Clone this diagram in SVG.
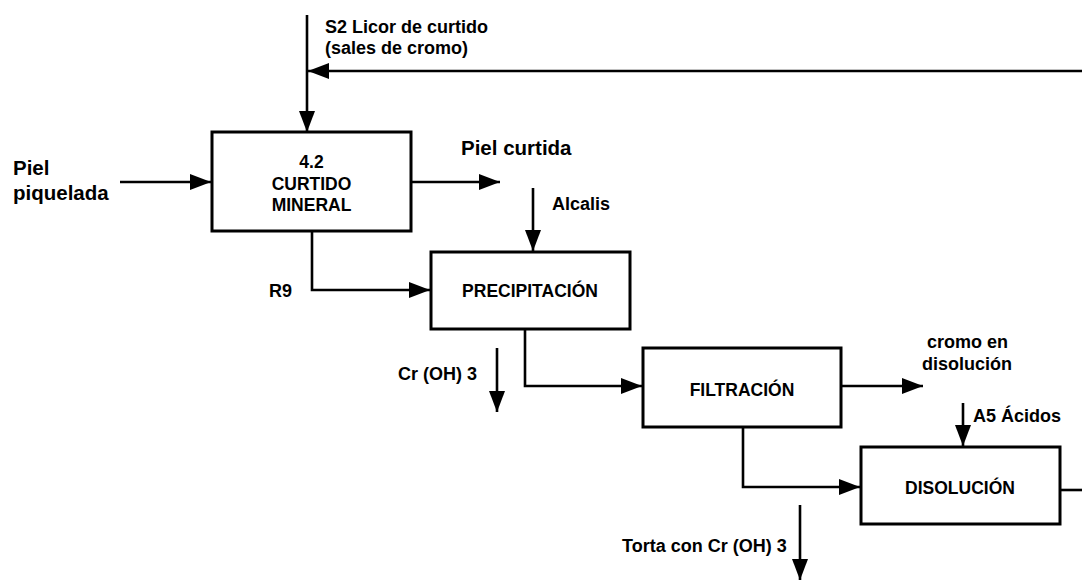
<svg xmlns="http://www.w3.org/2000/svg" width="1082" height="582" viewBox="0 0 1082 582">
<defs>
<style>
.box{fill:#fff;stroke:#000;stroke-width:3}
.c{fill:none;stroke:#000;stroke-width:2.6;marker-end:url(#ah)}
.cn{fill:none;stroke:#000;stroke-width:2.6}
text{font-family:"Liberation Sans",Arial,sans-serif;font-weight:bold;fill:#000}
.bt{font-size:17.5px;text-anchor:middle}
.lb{font-size:18px}
.big{font-size:20.5px}
</style>
<marker id="ah" markerUnits="userSpaceOnUse" markerWidth="21" markerHeight="16" refX="21" refY="8" orient="auto">
<path d="M0,0 L21,8 L0,16 z" fill="#000"/>
</marker>
</defs>
<rect width="1082" height="582" fill="#fff"/>
<g id="connectors">
<path class="c" d="M307,15 V132"/>
<path class="c" d="M1082,71 H308"/>
<path class="c" d="M120,182 H211"/>
<path class="c" d="M411,182 H500"/>
<path class="c" d="M533,188 V251"/>
<path class="c" d="M312,231 V290 H430"/>
<path class="c" d="M525,330 V386 H642"/>
<path class="c" d="M497,348 V412"/>
<path class="c" d="M841,386 H923"/>
<path class="c" d="M963,403 V446"/>
<path class="c" d="M743,427 V487 H860"/>
<path class="c" d="M800,505 V580"/>
<path class="cn" d="M1060,490 H1082"/>
</g>
<g id="labels">
<text class="lb" x="325" y="33">S2 Licor de curtido</text>
<text class="lb" x="325" y="54">(sales de cromo)</text>
<text class="big" x="13" y="175">Piel</text>
<text class="big" x="13" y="200">piquelada</text>
<text class="big" x="461" y="155">Piel curtida</text>
<text class="lb" x="552" y="210">Alcalis</text>
<text class="lb" x="269" y="297">R9</text>
<text class="lb" x="398" y="380">Cr (OH) 3</text>
<text class="lb" x="927" y="348">cromo en</text>
<text class="lb" x="922" y="370">disolución</text>
<text class="lb" x="973" y="422">A5 Ácidos</text>
<text class="lb" x="622" y="552">Torta con Cr (OH) 3</text>
</g>
<g id="curtido">
<rect class="box" x="212" y="132" width="199" height="99"/>
<text class="bt" x="311.5" y="168">4.2</text>
<text class="bt" x="311.5" y="190">CURTIDO</text>
<text class="bt" x="311.5" y="211">MINERAL</text>
</g>
<g id="precipitacion">
<rect class="box" x="431" y="252" width="199" height="77"/>
<text class="bt" x="530" y="297">PRECIPITACIÓN</text>
</g>
<g id="filtracion">
<rect class="box" x="643" y="348" width="198" height="79"/>
<text class="bt" x="742" y="396">FILTRACIÓN</text>
</g>
<g id="disolucion">
<rect class="box" x="861" y="447" width="199" height="77"/>
<text class="bt" x="960" y="494">DISOLUCIÓN</text>
</g>
</svg>
